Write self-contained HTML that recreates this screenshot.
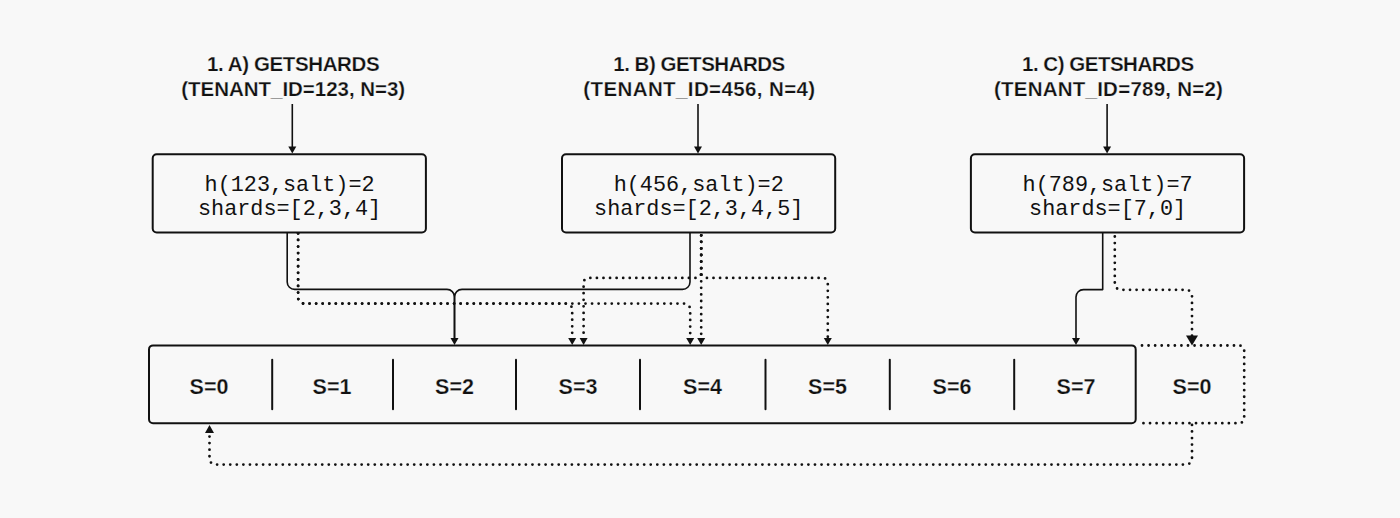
<!DOCTYPE html>
<html><head><meta charset="utf-8"><style>
html,body{margin:0;padding:0;background:#f8f8f8;}
body{width:1400px;height:518px;overflow:hidden;}
svg{display:block;}
.t{font-family:"Liberation Sans",sans-serif;font-weight:bold;font-size:20.5px;fill:#111111;text-anchor:middle;stroke:#f8f8f8;stroke-width:0.25px;}
.s{font-size:21.5px;}
.m{font-family:"Liberation Mono",monospace;font-size:21.8px;fill:#111111;text-anchor:middle;}
</style></head><body>
<svg width="1400" height="518" viewBox="0 0 1400 518">
<text x="207.0" y="71" class="t" textLength="172.60000000000002" lengthAdjust="spacing" style="text-anchor:start">1. A) GETSHARDS</text>
<text x="181.2" y="96" class="t" textLength="224.00000000000003" lengthAdjust="spacing" style="text-anchor:start">(TENANT_ID=123, N=3)</text>
<path d="M292.3,104 L292.3,150" fill="none" stroke="#111111" stroke-width="1.6" stroke-linejoin="round"/>
<path d="M288.3,146.6 L296.3,146.6 L292.3,153.6 Z" fill="#111111"/>
<text x="613.3" y="71" class="t" textLength="172.00000000000006" lengthAdjust="spacing" style="text-anchor:start">1. B) GETSHARDS</text>
<text x="583.3000000000001" y="96" class="t" textLength="231.89999999999998" lengthAdjust="spacing" style="text-anchor:start">(TENANT_ID=456, N=4)</text>
<path d="M698,104 L698,150" fill="none" stroke="#111111" stroke-width="1.6" stroke-linejoin="round"/>
<path d="M694.0,146.6 L702.0,146.6 L698,153.6 Z" fill="#111111"/>
<text x="1022.0" y="71" class="t" textLength="172.09999999999997" lengthAdjust="spacing" style="text-anchor:start">1. C) GETSHARDS</text>
<text x="993.9" y="96" class="t" textLength="229.0" lengthAdjust="spacing" style="text-anchor:start">(TENANT_ID=789, N=2)</text>
<path d="M1107.1,104 L1107.1,150" fill="none" stroke="#111111" stroke-width="1.6" stroke-linejoin="round"/>
<path d="M1103.1,146.6 L1111.1,146.6 L1107.1,153.6 Z" fill="#111111"/>
<rect x="152.7" y="154.3" width="273.2" height="78.2" rx="4" fill="none" stroke="#111111" stroke-width="2.0"/>
<text x="289.6" y="190.5" class="m">h(123,salt)=2</text>
<text x="289.6" y="215" class="m">shards=[2,3,4]</text>
<rect x="562" y="154.3" width="273.2" height="78.2" rx="4" fill="none" stroke="#111111" stroke-width="2.0"/>
<text x="698.7" y="190.5" class="m">h(456,salt)=2</text>
<text x="698.7" y="215" class="m">shards=[2,3,4,5]</text>
<rect x="970.9" y="154.3" width="273.2" height="78.2" rx="4" fill="none" stroke="#111111" stroke-width="2.0"/>
<text x="1107.6" y="190.5" class="m">h(789,salt)=7</text>
<text x="1107.6" y="215" class="m">shards=[7,0]</text>
<rect x="149" y="345.4" width="986.7" height="77.9" rx="4" fill="none" stroke="#111111" stroke-width="2.0"/>
<line x1="272.2" y1="359.8" x2="272.2" y2="409.2" stroke="#111111" stroke-width="2" stroke-linecap="round"/>
<line x1="393" y1="359.8" x2="393" y2="409.2" stroke="#111111" stroke-width="2" stroke-linecap="round"/>
<line x1="516" y1="359.8" x2="516" y2="409.2" stroke="#111111" stroke-width="2" stroke-linecap="round"/>
<line x1="640" y1="359.8" x2="640" y2="409.2" stroke="#111111" stroke-width="2" stroke-linecap="round"/>
<line x1="765.5" y1="359.8" x2="765.5" y2="409.2" stroke="#111111" stroke-width="2" stroke-linecap="round"/>
<line x1="889.8" y1="359.8" x2="889.8" y2="409.2" stroke="#111111" stroke-width="2" stroke-linecap="round"/>
<line x1="1014.2" y1="359.8" x2="1014.2" y2="409.2" stroke="#111111" stroke-width="2" stroke-linecap="round"/>
<text x="209" y="394" class="t s">S=0</text>
<text x="332" y="394" class="t s">S=1</text>
<text x="454.5" y="394" class="t s">S=2</text>
<text x="578" y="394" class="t s">S=3</text>
<text x="702.5" y="394" class="t s">S=4</text>
<text x="827.5" y="394" class="t s">S=5</text>
<text x="952" y="394" class="t s">S=6</text>
<text x="1076" y="394" class="t s">S=7</text>
<text x="1192" y="394" class="t s">S=0</text>
<path d="M1137,345.5 L1239.20,345.50 A5.00,5.00 0 0 1 1244.20,350.50 L1244.20,418.20 A5.00,5.00 0 0 1 1239.20,423.20 L1137,423.2" fill="none" stroke="#111111" stroke-width="2.8" stroke-linecap="round" stroke-dasharray="0 6.57" stroke-dashoffset="-5.000"/>
<path d="M287.2,233 L287.20,281.90 A7.50,7.50 0 0 0 294.70,289.40 L447.00,289.40 A7.50,7.50 0 0 1 454.50,296.90 L454.5,340" fill="none" stroke="#111111" stroke-width="1.6" stroke-linejoin="round"/>
<path d="M690,233 L690.00,281.90 A7.50,7.50 0 0 1 682.50,289.40 L462.00,289.40 A7.50,7.50 0 0 0 454.50,296.90 L454.5,340" fill="none" stroke="#111111" stroke-width="1.6" stroke-linejoin="round"/>
<path d="M450.5,338 L458.5,338 L454.5,345 Z" fill="#111111"/>
<path d="M298.1,232.5 L298.10,297.60 A6.00,6.00 0 0 0 304.10,303.60 L566.20,303.60 A6.00,6.00 0 0 1 572.20,309.60 L572.2,338" fill="none" stroke="#111111" stroke-width="2.8" stroke-linecap="round" stroke-dasharray="0 6.57" stroke-dashoffset="-0.900"/>
<path d="M298.1,232.5 L298.10,297.60 A6.00,6.00 0 0 0 304.10,303.60 L684.20,303.60 A6.00,6.00 0 0 1 690.20,309.60 L690.2,338" fill="none" stroke="#111111" stroke-width="2.8" stroke-linecap="round" stroke-dasharray="0 6.57" stroke-dashoffset="-0.900"/>
<path d="M568.2,338 L576.2,338 L572.2,345 Z" fill="#111111"/>
<path d="M686.2,338 L694.2,338 L690.2,345 Z" fill="#111111"/>
<path d="M701.2,232.5 L701.2,338" fill="none" stroke="#111111" stroke-width="2.8" stroke-linecap="round" stroke-dasharray="0 6.57" stroke-dashoffset="-2.800"/>
<path d="M701.2,232.5 L701.20,272.90 A5.00,5.00 0 0 1 696.20,277.90 L588.60,277.90 A5.00,5.00 0 0 0 583.60,282.90 L583.6,338" fill="none" stroke="#111111" stroke-width="2.8" stroke-linecap="round" stroke-dasharray="0 6.57" stroke-dashoffset="-2.800"/>
<path d="M701.2,232.5 L701.20,272.90 A5.00,5.00 0 0 0 706.20,277.90 L822.80,277.90 A5.00,5.00 0 0 1 827.80,282.90 L827.8,338" fill="none" stroke="#111111" stroke-width="2.8" stroke-linecap="round" stroke-dasharray="0 6.57" stroke-dashoffset="-2.800"/>
<path d="M579.6,338 L587.6,338 L583.6,345 Z" fill="#111111"/>
<path d="M697.2,338 L705.2,338 L701.2,345 Z" fill="#111111"/>
<path d="M823.8,338 L831.8,338 L827.8,345 Z" fill="#111111"/>
<path d="M1102.7,233 L1102.7,289.6 L1083.50,289.60 A7.50,7.50 0 0 0 1076.00,297.10 L1076,340" fill="none" stroke="#111111" stroke-width="1.6" stroke-linejoin="round"/>
<path d="M1072.0,338 L1080.0,338 L1076,345 Z" fill="#111111"/>
<path d="M1114.8,232.5 L1114.80,283.80 A6.00,6.00 0 0 0 1120.80,289.80 L1186.00,289.80 A6.00,6.00 0 0 1 1192.00,295.80 L1192,336" fill="none" stroke="#111111" stroke-width="2.8" stroke-linecap="round" stroke-dasharray="0 6.57" stroke-dashoffset="-4.000"/>
<path d="M1186.0,335.5 L1198.0,335.5 L1192,345.5 Z" fill="#111111"/>
<path d="M1192,423.3 L1192.00,458.60 A6.00,6.00 0 0 1 1186.00,464.60 L215.50,464.60 A6.00,6.00 0 0 1 209.50,458.60 L209.5,433" fill="none" stroke="#111111" stroke-width="2.8" stroke-linecap="round" stroke-dasharray="0 6.57" stroke-dashoffset="-1.600"/>
<path d="M205.0,433 L214.0,433 L209.5,425 Z" fill="#111111"/>
</svg>
</body></html>
